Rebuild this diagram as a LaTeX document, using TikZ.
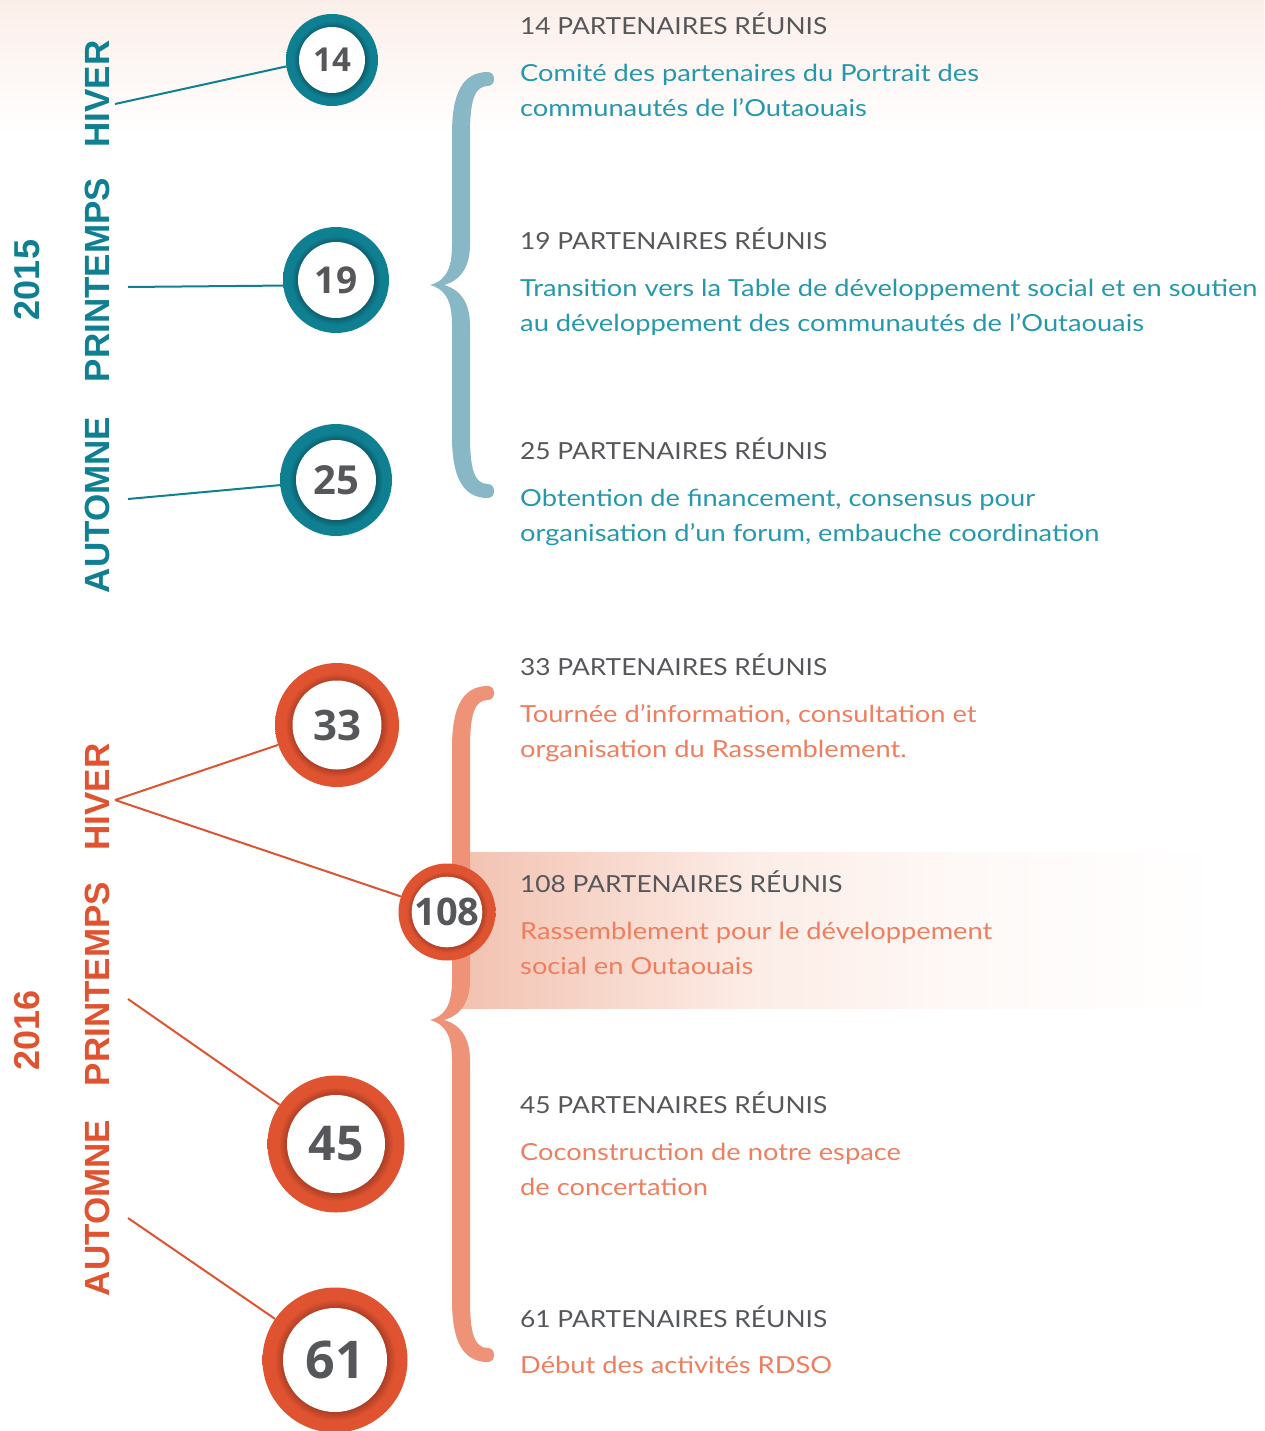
\documentclass[tikz,border=0pt]{standalone}
\usepackage{fontspec}
\setmainfont{Lato}
\newfontfamily\headfont{Lato}[FakeStretch=1.12]
\newfontfamily\descfont{Lato}[FakeStretch=1.16]
\newfontfamily\seasonfont{Liberation Sans}
\newfontfamily\numfont{Open Sans}
\usepackage{tikz}

\definecolor{teal}{HTML}{0F7F92}
\definecolor{tealdeep}{HTML}{0A5561}
\definecolor{tealtext}{HTML}{2698AC}
\definecolor{tealbrace}{HTML}{88B7C6}
\definecolor{rust}{HTML}{E05331}
\definecolor{rustdeep}{HTML}{9E3820}
\definecolor{rusttext}{HTML}{EF7E5E}
\definecolor{rustbrace}{HTML}{EE9377}
\definecolor{numgray}{HTML}{55575A}
\definecolor{peach}{HTML}{F2C1AF}
\definecolor{peachlight}{HTML}{FCECE6}
\definecolor{peachfaint}{HTML}{FEF9F7}
\definecolor{bandtop}{HTML}{FBEEE9}

\pgfdeclareradialshading{tealring}{\pgfpoint{0bp}{0bp}}{color(0bp)=(tealdeep); color(17bp)=(tealdeep); color(21bp)=(teal); color(25bp)=(teal); color(50bp)=(teal)}
\pgfdeclareradialshading{rustring}{\pgfpoint{0bp}{0bp}}{color(0bp)=(rustdeep); color(17bp)=(rustdeep); color(21bp)=(rust); color(25bp)=(rust); color(50bp)=(rust)}
\pgfdeclarehorizontalshading{peachfade}{100bp}{color(0bp)=(peach); color(25bp)=(peach); color(44bp)=(peachlight); color(58bp)=(peachfaint); color(75bp)=(white); color(100bp)=(white)}

\tikzset{
  ring/.style={circle, inner sep=0pt, shade, shading=#1},
  face/.style={circle, inner sep=0pt, fill=white, text=numgray},
  season/.style={rotate=90, inner sep=0pt, text=#1,
    font=\seasonfont\bfseries\fontsize{35}{35}\selectfont},
  year/.style={rotate=90, inner sep=0pt, text=#1,
    font=\seasonfont\bfseries\fontsize{36}{36}\selectfont},
  head/.style={anchor=base west, inner sep=0pt, text=numgray,
    font=\headfont\fontsize{23.5}{35}\selectfont},
  desc/.style={anchor=base west, inner sep=0pt, text=#1,
    font=\descfont\fontsize{23.5}{35}\selectfont},
  link/.style={draw=#1, line width=2pt},
}

% calligraphic curly brace: colour, top y, tip y, bottom y
\newcommand\curlybrace[4]{%
  \fill[#1] (488,#2-7) .. controls (462,#2-7) and (452,#2+15) .. (452,#2+55)
    -- (452,#3-40) .. controls (452,#3-15) and (445,#3-4) .. (430,#3)
    .. controls (445,#3+4) and (452,#3+15) .. (452,#3+40)
    -- (452,#4-55) .. controls (452,#4-15) and (462,#4+7) .. (488,#4+7)
    .. controls (496,#4+7) and (496,#4-7) .. (488,#4-7)
    .. controls (475,#4-7) and (470,#4-20) .. (470,#4-55)
    -- (470,#3+40) .. controls (470,#3+20) and (462,#3+5) .. (444,#3)
    .. controls (462,#3-5) and (470,#3-20) .. (470,#3-40)
    -- (470,#2+55) .. controls (470,#2+20) and (475,#2+7) .. (488,#2+7)
    .. controls (496,#2+7) and (496,#2-7) .. (488,#2-7) -- cycle;}

\begin{document}
\begin{tikzpicture}[x=1pt,y=-1pt]
  \useasboundingbox (0,0) rectangle (1264,1431);
  % backgrounds
  \shade[top color=bandtop, bottom color=white] (0,0) rectangle (1264,135);
  \shade[shading=peachfade] (455,852) rectangle (1225,1008);

  % braces
  \curlybrace{tealbrace}{79}{285}{491}
  \curlybrace{rustbrace}{693}{1020}{1355}

  % year labels
  \node[year=teal] (y15) at (27,280) {2015};
  \node[year=rust] (y16) at (27,1030) {2016};

  % season labels 2015
  \node[season=teal] (hiver15) at (97,94) {HIVER};
  \node[season=teal] (print15) at (97,280) {PRINTEMPS};
  \node[season=teal] (autom15) at (97,505) {AUTOMNE};
  % season labels 2016
  \node[season=rust] (hiver16) at (97,797) {HIVER};
  \node[season=rust] (print16) at (97,984) {PRINTEMPS};
  \node[season=rust] (autom16) at (97,1208) {AUTOMNE};

  \coordinate (h15) at (115,104);
  \coordinate (p15) at (128,287);
  \coordinate (a15) at (128,499);
  \coordinate (h16) at (115,800);
  \coordinate (p16) at (128,999);
  \coordinate (a16) at (128,1218);

  % counters
  \node[ring=tealring, minimum size=92pt]  (c14) at (332,60) {};
  \node[face, minimum size=66pt, font=\numfont\bfseries\fontsize{33}{33}\selectfont] at (c14) {14};
  \node[ring=tealring, minimum size=106pt] (c19) at (336,280) {};
  \node[face, minimum size=76pt, font=\numfont\bfseries\fontsize{37}{37}\selectfont] at (c19) {19};
  \node[ring=tealring, minimum size=112pt] (c25) at (336,480) {};
  \node[face, minimum size=80pt, font=\numfont\bfseries\fontsize{40}{40}\selectfont] at (c25) {25};
  \node[ring=rustring, minimum size=124pt] (c33) at (337,725) {};
  \node[face, minimum size=89pt, font=\numfont\bfseries\fontsize{42}{42}\selectfont] at (c33) {33};
  \node[ring=rustring, minimum size=97pt]  (c108) at (447,912) {};
  \node[face, minimum size=70pt, font=\numfont\bfseries\fontsize{38}{38}\selectfont] at (c108) {108};
  \node[ring=rustring, minimum size=137pt] (c45) at (336,1144) {};
  \node[face, minimum size=98pt, font=\numfont\bfseries\fontsize{48}{48}\selectfont] at (c45) {45};
  \node[ring=rustring, minimum size=145pt] (c61) at (335,1360) {};
  \node[face, minimum size=104pt, font=\numfont\bfseries\fontsize{52}{52}\selectfont] at (c61) {61};

  % connectors
  \draw[link=teal] (h15) -- (c14.188);
  \draw[link=teal] (p15) -- (c19.186);
  \draw[link=teal] (a15) -- (c25);
  \draw[link=rust] (h16) -- (c33);
  \draw[link=rust] (h16) -- (c108);
  \draw[link=rust] (p16) -- (c45);
  \draw[link=rust] (a16) -- (c61);

  % events
  \node[head] (t14) at (520,35) {14 PARTENAIRES RÉUNIS};
  \node[desc=tealtext] (d14) at (520,82) {\parbox[t]{760pt}{Comité des partenaires du Portrait des\\communautés de l’Outaouais}};
  \node[head] (t19) at (520,250) {19 PARTENAIRES RÉUNIS};
  \node[desc=tealtext] (d19) at (520,296) {\parbox[t]{760pt}{Transition vers la Table de développement social et en soutien\\au développement des communautés de l’Outaouais}};
  \node[head] (t25) at (520,459) {25 PARTENAIRES RÉUNIS};
  \node[desc=tealtext] (d25) at (520,506) {\parbox[t]{760pt}{Obtention de financement, consensus pour\\organisation d’un forum, embauche coordination}};
  \node[head] (t33) at (520,675) {33 PARTENAIRES RÉUNIS};
  \node[desc=rusttext] (d33) at (520,722) {\parbox[t]{760pt}{Tournée d’information, consultation et\\organisation du Rassemblement.}};
  \node[head] (t108) at (520,892) {108 PARTENAIRES RÉUNIS};
  \node[desc=rusttext] (d108) at (520,939) {\parbox[t]{760pt}{Rassemblement pour le développement\\social en Outaouais}};
  \node[head] (t45) at (520,1113) {45 PARTENAIRES RÉUNIS};
  \node[desc=rusttext] (d45) at (520,1160) {\parbox[t]{760pt}{Coconstruction de notre espace\\de concertation}};
  \node[head] (t61) at (520,1327) {61 PARTENAIRES RÉUNIS};
  \node[desc=rusttext] (d61) at (520,1373) {\parbox[t]{760pt}{Début des activités RDSO}};
\end{tikzpicture}
\end{document}
